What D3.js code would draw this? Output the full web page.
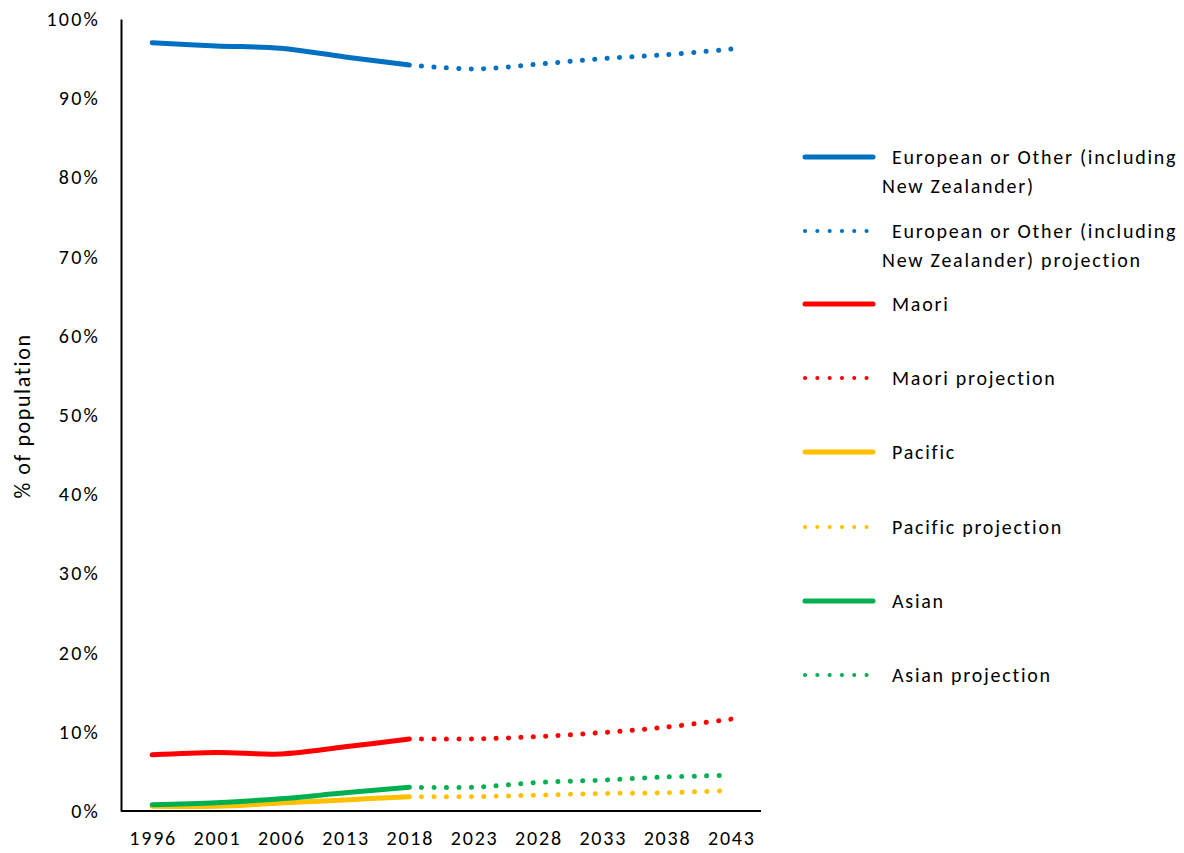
<!DOCTYPE html>
<html>
<head>
<meta charset="utf-8">
<script src="https://cdn.jsdelivr.net/npm/d3@7"></script>
<style>
  html, body { margin: 0; padding: 0; background: #fff; }
  svg { display: block; }
  text { font-family: Carlito, Calibri, Lato, sans-serif; fill: #000; }
</style>
</head>
<body>
<svg id="chart" width="1184" height="853"></svg>
<script>
const years = ["1996","2001","2006","2013","2018","2023","2028","2033","2038","2043"];
const actualYears = ["1996","2001","2006","2013","2018"];
const projYears = ["2018","2023","2028","2033","2038","2043"];

const european     = [97.0, 96.6, 96.3, 95.2, 94.2];
const europeanProj = [94.2, 93.7, 94.3, 95.0, 95.5, 96.2];
const maori        = [7.1, 7.4, 7.2, 8.1, 9.1];
const maoriProj    = [9.1, 9.1, 9.4, 9.9, 10.6, 11.6];
const pacific      = [0.6, 0.6, 1.0, 1.4, 1.8];
const pacificProj  = [1.8, 1.8, 2.0, 2.2, 2.3, 2.6];
const asian        = [0.8, 1.05, 1.55, 2.3, 3.0];
const asianProj    = [3.0, 3.0, 3.6, 3.9, 4.3, 4.5];

const yTicks = [0,10,20,30,40,50,60,70,80,90,100];

const seriesNames = [
  ["European or Other (including", "New Zealander)"],
  ["European or Other (including", "New Zealander) projection"],
  ["Maori"], ["Maori projection"],
  ["Pacific"], ["Pacific projection"],
  ["Asian"], ["Asian projection"]
];
const colors = ["#0070C0","#0070C0","#FF0000","#FF0000","#FFC000","#FFC000","#00B050","#00B050"];

const series = [
  {years: actualYears, values: european, dotted: false},
  {years: projYears, values: europeanProj, dotted: true},
  {years: actualYears, values: maori, dotted: false},
  {years: projYears, values: maoriProj, dotted: true},
  {years: actualYears, values: pacific, dotted: false},
  {years: projYears, values: pacificProj, dotted: true},
  {years: actualYears, values: asian, dotted: false},
  {years: projYears, values: asianProj, dotted: true}
];

const svg = d3.select("#chart");
const x = d3.scaleBand().domain(years).range([120, 763]);
const y = d3.scaleLinear().domain([0, 100]).range([811, 19]);

// axes
const yAxis = svg.append("g").attr("transform", "translate(121,0)")
  .call(d3.axisLeft(y).tickValues(yTicks).tickSize(0).tickPadding(21).tickFormat(d => d + "%"));
yAxis.select(".domain").attr("stroke", "#000").attr("stroke-width", 2);
yAxis.selectAll("text").attr("font-size", 20).attr("fill", "#000")
  .style("letter-spacing", "2.2px")
  .style("font-family", "Carlito, Calibri, Lato, sans-serif");

const xAxis = svg.append("g").attr("transform", "translate(0,811)")
  .call(d3.axisBottom(x).tickSize(0).tickPadding(20));
xAxis.select(".domain").attr("stroke", "#000").attr("stroke-width", 2)
  .attr("d", "M121,0H761");
xAxis.selectAll("text").attr("font-size", 20).attr("fill", "#000")
  .attr("dx", "1px")
  .style("letter-spacing", "1.8px")
  .style("font-family", "Carlito, Calibri, Lato, sans-serif");

svg.append("text")
  .attr("transform", "translate(30,416) rotate(-90)")
  .attr("text-anchor", "middle")
  .attr("font-size", 22)
  .style("letter-spacing", "1.6px")
  .text("% of population");

const line = d3.line()
  .x(d => x(d[0]) + x.bandwidth() / 2)
  .y(d => y(d[1]))
  .curve(d3.curveCatmullRom.alpha(0.5));

series.forEach((s, i) => {
  const pts = s.years.map((yr, j) => [yr, s.values[j]]);
  const p = svg.append("path")
    .attr("d", line(pts))
    .attr("fill", "none")
    .attr("stroke", colors[i])
    .attr("stroke-width", 5)
    .attr("stroke-linecap", "round")
    .attr("stroke-linejoin", "round");
  if (s.dotted) {
    p.attr("stroke-dasharray", "0.1 12.3").attr("stroke-dashoffset", -12.3);
  }
});

// legend
const legendY = [157, 231, 304, 378, 452, 527, 601, 675];
const lg = svg.append("g");
series.forEach((s, i) => {
  const ly = legendY[i];
  const ln = lg.append("line")
    .attr("x1", 805).attr("x2", 873).attr("y1", ly).attr("y2", ly)
    .attr("stroke", colors[i]).attr("stroke-width", s.dotted ? 4 : 5)
    .attr("stroke-linecap", "round");
  if (s.dotted) ln.attr("x2", 868).attr("stroke-dasharray", "0.1 12.2");
  const lines = seriesNames[i];
  lines.forEach((t, k) => {
    lg.append("text")
      .attr("x", k === 0 ? 892 : 882)
      .attr("y", ly + k * 29)
      .attr("dy", "0.35em")
      .attr("font-size", 20)
      .style("letter-spacing", "1.75px")
      .text(t);
  });
});
</script>
</body>
</html>
